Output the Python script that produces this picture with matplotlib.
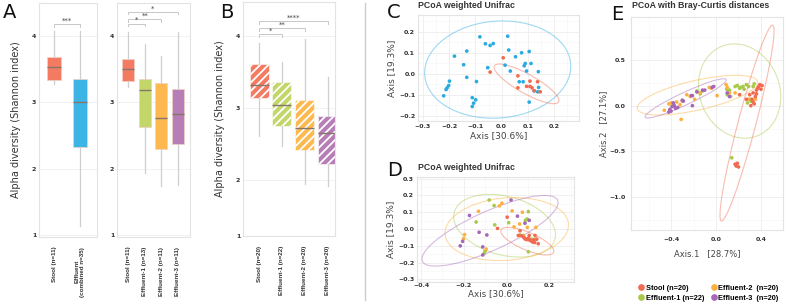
import numpy as np
import matplotlib.pyplot as plt
from matplotlib.patches import Ellipse
from matplotlib.lines import Line2D
from matplotlib.ticker import MultipleLocator

W, H = 789, 303

# colours
STOOL = '#F47A62'
EFF = '#3CB4E5'
EFF1 = '#C3D66A'
EFF2 = '#FDB94F'
EFF3 = '#B67DB6'
SC_STOOL = '#F26A4F'
SC_EFF = '#29ABE2'
SC_E1 = '#A8C94A'
SC_E2 = '#FDB03F'
SC_E3 = '#A567B8'

# ---- panel A (left): stool vs combined effluent
a1_labels = ['Stool (n=11)', 'Effluent\n(combined n=35)']
a1_whislo = [3.28, 1.13]
a1_q1 = [3.34, 2.33]
a1_med = [3.53, 3.00]
a1_q3 = [3.68, 3.36]
a1_whishi = [4.08, 4.08]
a1_sig = [(1, 2, 4.18, '***')]

# ---- panel A (right): stool vs each effluent
a2_labels = ['Stool (n=11)', 'Effluent-1 (n=13)', 'Effluent-2 (n=11)', 'Effluent-3 (n=11)']
a2_whislo = [3.24, 1.94, 1.74, 1.75]
a2_q1 = [3.32, 2.63, 2.30, 2.37]
a2_med = [3.51, 3.19, 2.76, 2.83]
a2_q3 = [3.65, 3.36, 3.29, 3.21]
a2_whishi = [4.07, 3.88, 3.70, 4.07]
a2_sig = [(1, 2, 4.19, '*'), (1, 3, 4.26, '**'), (1, 4, 4.37, '*')]

# ---- panel B
b_labels = ['Stool (n=20)', 'Effluent-1 (n=22)', 'Effluent-2 (n=20)', 'Effluent-3 (n=20)']
b_whislo = [2.61, 2.47, 1.95, 1.91]
b_q1 = [3.14, 2.75, 2.42, 2.22]
b_med = [3.33, 3.04, 2.72, 2.66]
b_q3 = [3.61, 3.36, 3.11, 2.89]
b_whishi = [3.91, 3.64, 3.96, 3.44]
b_sig = [(1, 2, 4.03, '*'), (1, 3, 4.12, '**'), (1, 4, 4.21, '****')]

# ---- panel C (weighted Unifrac, stool n=11 vs effluent)
c_eff_x = [-0.083, 0.023, -0.062, -0.044, -0.032, -0.180, -0.133, 0.027, 0.053, 0.076, 0.105,
           -0.145, -0.053, 0.013, 0.090, 0.086, 0.112, 0.033, 0.095, 0.140, -0.133, -0.096,
           -0.199, -0.202, -0.208, -0.212, -0.221, -0.112, -0.099, -0.107, -0.112, 0.067,
           0.082, 0.141, 0.137, 0.105, 0.124]
c_eff_y = [0.176, 0.179, 0.143, 0.135, 0.144, 0.084, 0.108, 0.113, 0.081, 0.100, 0.106,
           0.043, 0.029, 0.041, 0.049, 0.038, 0.049, 0.013, 0.013, 0.010, -0.017, -0.037,
           -0.035, -0.056, -0.067, -0.075, -0.105, -0.114, -0.124, -0.140, -0.156, -0.038,
           -0.038, -0.065, -0.086, -0.135, -0.081]
c_stool_x = [0.006, -0.044, 0.062, 0.062, 0.095, 0.108, 0.116, 0.108, 0.137, 0.147, 0.124]
c_stool_y = [0.076, 0.008, -0.010, -0.067, -0.060, -0.060, -0.067, -0.035, -0.038, -0.086, -0.081]
# ellipses: centre x, centre y, width, height, angle
c_ell_eff = (-0.015, 0.02, 0.56, 0.46, 10)
c_ell_stool = (0.095, -0.048, 0.30, 0.085, -36)

# ---- panel D (weighted Unifrac, stool + three effluents)
d_stool_x = [0.002, -0.043, 0.062, 0.054, 0.085, 0.093, 0.105, 0.105, 0.132, 0.121, 0.147,
             0.110, 0.098, 0.116, 0.125, 0.140, 0.080, 0.070, 0.130, 0.100]
d_stool_y = [0.071, 0.004, -0.010, -0.038, -0.058, -0.063, -0.063, -0.038, -0.038, -0.077, -0.087,
             -0.068, -0.060, -0.070, -0.065, -0.060, -0.050, -0.040, -0.080, -0.055]
d_e1_x = [-0.082, -0.059, -0.143, -0.056, 0.009, 0.087, 0.101, 0.062, 0.127, 0.101, -0.101,
          -0.105, 0.078, 0.095, 0.115]
d_e1_y = [0.173, 0.140, 0.042, 0.025, 0.038, 0.052, 0.104, -0.035, -0.062, -0.135, -0.131,
          -0.144, -0.038, 0.060, -0.060]
d_e2_x = [-0.132, -0.034, -0.023, 0.025, 0.073, 0.034, 0.096, 0.136, -0.197, -0.202, -0.096,
          0.135, 0.078, 0.060]
d_e2_y = [0.106, 0.138, 0.154, 0.108, 0.100, 0.013, 0.010, 0.010, -0.033, -0.058, -0.119,
          -0.062, -0.042, 0.030]
d_e3_x = [0.020, -0.174, 0.050, 0.085, 0.105, -0.129, -0.093, -0.206, -0.217, -0.112, -0.112]
d_e3_y = [0.173, 0.081, 0.077, 0.035, 0.052, -0.019, -0.035, -0.073, -0.100, -0.106, -0.154]
d_ell_stool = (0.096, -0.072, 0.28, 0.10, -30)
d_ell_e1 = (-0.01, 0.02, 0.50, 0.34, -25)
d_ell_e2 = (0.0, 0.0, 0.58, 0.37, 8)
d_ell_e3 = (-0.078, -0.01, 0.73, 0.22, 31)

# ---- panel E (Bray-Curtis)
e_stool_x = [0.33, 0.36, 0.38, 0.39, 0.41, 0.32, 0.33, 0.30, 0.35, 0.27, 0.21, 0.34, 0.37, 0.40,
             0.31, 0.17, 0.18, 0.20, 0.19, 0.36]
e_stool_y = [0.14, 0.17, 0.21, 0.23, 0.22, 0.07, 0.04, 0.12, 0.10, 0.07, 0.12, 0.02, 0.19, 0.18,
             0.00, -0.64, -0.66, -0.67, -0.63, 0.13]
e_e1_x = [-0.17, -0.14, -0.12, -0.39, 0.095, 0.12, 0.17, 0.19, 0.27, 0.29, 0.34, 0.30, 0.14, 0.10,
          0.22, 0.25, 0.31, 0.13, 0.24, 0.33, 0.28, 0.21]
e_e1_y = [0.16, 0.13, 0.16, 0.00, 0.18, 0.17, 0.21, 0.22, 0.23, 0.21, 0.24, 0.07, -0.57, 0.12,
          0.20, 0.18, 0.05, 0.10, 0.21, 0.21, 0.03, 0.19]
e_e2_x = [-0.46, -0.40, -0.35, -0.32, -0.31, -0.26, -0.23, -0.19, -0.14, -0.06, -0.04, 0.01, 0.09,
          0.12, 0.17, 0.29, 0.35, -0.42, -0.30, 0.10]
e_e2_y = [-0.05, 0.03, 0.04, 0.01, -0.15, 0.12, 0.10, 0.07, 0.14, 0.20, 0.19, 0.11, 0.23, 0.14,
          0.14, 0.07, 0.07, 0.02, 0.05, 0.20]
e_e3_x = [-0.42, -0.41, -0.39, -0.38, -0.36, -0.40, -0.37, -0.30, -0.29, -0.22, -0.21, -0.21, -0.17,
          -0.12, -0.10, -0.02, -0.035, 0.10, 0.12, -0.34]
e_e3_y = [-0.07, -0.04, -0.01, 0.03, -0.03, -0.06, 0.00, 0.06, 0.05, 0.11, 0.11, 0.00, 0.15, 0.17,
          0.17, 0.21, 0.20, 0.14, 0.10, -0.02]
e_ell_stool = (0.276, -0.19, 2.19, 0.16, 78)
e_ell_e1 = (0.21, 0.16, 0.72, 1.04, 10)
e_ell_e2 = (-0.165, 0.115, 1.11, 0.32, 16)
e_ell_e3 = (-0.27, 0.08, 0.83, 0.13, 30)

legend_labels = ['Stool (n=20)', 'Effluent-1 (n=22)', 'Effluent-2  (n=20)', 'Effluent-3  (n=20)']

plt.rcParams['font.family'] = 'DejaVu Sans'
plt.rcParams['hatch.linewidth'] = 1.3

fig = plt.figure(figsize=(W / 100, H / 100), dpi=100)
fig.patch.set_facecolor('white')


def ax_px(l, t, r, b):
    return fig.add_axes([l / W, 1 - b / H, (r - l) / W, (b - t) / H])


def frame(ax):
    for s in ax.spines.values():
        s.set_color('#e3e3e3')
        s.set_linewidth(0.8)
    ax.tick_params(length=0, labelsize=4.5, colors='#333333', pad=2)
    for t in ax.get_yticklabels():
        t.set_fontweight('bold')


def boxes(ax, labels, lo, q1, med, q3, hi, colors, width, hatch=None):
    stats = []
    for i in range(len(labels)):
        stats.append(dict(whislo=lo[i], q1=q1[i], med=med[i], q3=q3[i], whishi=hi[i], fliers=[]))
    pos = np.arange(1, len(labels) + 1)
    bp = ax.bxp(stats, positions=pos, widths=width, patch_artist=True, showcaps=False,
                showfliers=False,
                whiskerprops=dict(color='#cfcfcf', lw=0.9),
                medianprops=dict(color='#85766c', lw=1.0))
    for p, c in zip(bp['boxes'], colors):
        p.set_facecolor(c)
        if hatch:
            p.set_edgecolor('white')
            p.set_hatch(hatch)
            p.set_linewidth(0.4)
        else:
            p.set_edgecolor('#f4d0c4')
            p.set_linewidth(0.5)
    ax.set_xticks(pos)
    ax.set_xticklabels(labels, rotation=90, va='top', ha='center', fontsize=5.0,
                       family='Liberation Sans', fontweight='bold', color='#2a2a2a')
    ax.grid(axis='y', color='#efefef', lw=0.6)
    ax.set_axisbelow(True)


def brackets(ax, sig, drop=0.04):
    for x1, x2, y, s in sig:
        ax.plot([x1, x1, x2, x2], [y - drop, y, y, y - drop], color='#c8c8c8', lw=0.7)
        ax.text((x1 + x2) / 2, y + 0.005, s, ha='center', va='bottom', fontsize=5, color='#444444')


# ---------- A1
ax = ax_px(39, 3, 97, 237)
boxes(ax, a1_labels, a1_whislo, a1_q1, a1_med, a1_q3, a1_whishi, [STOOL, EFF], 0.54)
brackets(ax, a1_sig)
ax.set_xlim(0.42, 2.65)
ax.set_ylim(0.97, 4.5)
ax.set_yticks([1, 2, 3, 4])
ax.set_ylabel('Alpha diversity (Shannon index)', fontsize=7, color='#333333', labelpad=8)
frame(ax)
ax.tick_params(axis='x', pad=7)

# ---------- A2
ax = ax_px(117, 3, 190, 237)
boxes(ax, a2_labels, a2_whislo, a2_q1, a2_med, a2_q3, a2_whishi, [STOOL, EFF1, EFF2, EFF3], 0.73)
brackets(ax, a2_sig)
ax.set_xlim(0.31, 4.75)
ax.set_ylim(0.97, 4.5)
ax.set_yticks([1, 2, 3, 4])
frame(ax)
ax.tick_params(axis='x', pad=7)

# ---------- B
ax = ax_px(243, 2, 335, 236)
boxes(ax, b_labels, b_whislo, b_q1, b_med, b_q3, b_whishi, [STOOL, EFF1, EFF2, EFF3], 0.83,
      hatch='////')
brackets(ax, b_sig)
ax.set_xlim(0.30, 4.32)
ax.set_ylim(1.22, 4.48)
ax.set_yticks([1.22, 2, 3, 4])
ax.set_yticklabels(['1', '2', '3', '4'])
ax.set_ylabel('Alpha diversity (Shannon index)', fontsize=7, color='#333333', labelpad=8)
frame(ax)
ax.tick_params(axis='x', pad=7)

# separator
fig.add_artist(Line2D([365 / W, 365 / W], [0.01, 0.99], color='#cccccc', lw=1.0))


def pcoa(ax, groups, ells, xmaj, xmin, ymaj, ymin):
    for (xs, ys, c) in groups:
        ax.scatter(xs, ys, s=7, color=c, edgecolors='none', zorder=3)
    for (cx, cy, w, h, a), c in ells:
        ax.add_patch(Ellipse((cx, cy), w, h, angle=a, fill=False, edgecolor=c, lw=0.8, alpha=0.45,
                             zorder=2))
    ax.xaxis.set_major_locator(MultipleLocator(xmaj))
    ax.xaxis.set_minor_locator(MultipleLocator(xmin))
    ax.yaxis.set_major_locator(MultipleLocator(ymaj))
    ax.yaxis.set_minor_locator(MultipleLocator(ymin))
    ax.grid(which='major', color='#ececec', lw=0.6)
    ax.grid(which='minor', color='#f5f5f5', lw=0.4)
    ax.set_axisbelow(True)
    ax.tick_params(which='minor', length=0)


def bold_ticks(ax):
    for t in ax.get_xticklabels():
        t.set_fontweight('bold')


TITLE = dict(fontsize=6.3, fontweight='bold', color='#333333', va='center', ha='left',
             family='Liberation Sans')

# ---------- C
ax = ax_px(418, 15, 579, 121)
pcoa(ax, [(c_eff_x, c_eff_y, SC_EFF), (c_stool_x, c_stool_y, SC_STOOL)],
     [(c_ell_eff, SC_EFF), (c_ell_stool, SC_STOOL)], 0.1, 0.05, 0.1, 0.05)
ax.set_xlim(-0.319, 0.295)
ax.set_ylim(-0.225, 0.28)
ax.set_xticks([-0.3, -0.2, -0.1, 0.0, 0.1, 0.2])
ax.set_yticks([-0.2, -0.1, 0.0, 0.1, 0.2])
ax.xaxis.set_major_formatter('{x:.1f}')
ax.yaxis.set_major_formatter('{x:.1f}')
frame(ax)
bold_ticks(ax)
ax.set_xlabel('Axis [30.6%]', fontsize=6.5, color='#444444', labelpad=2)
ax.set_ylabel('Axis [19.3%]', fontsize=6.5, color='#444444', labelpad=2)
fig.text(418 / W, 1 - 6 / H, 'PCoA weighted Unifrac', **TITLE)

# ---------- D
ax = ax_px(417, 177, 574, 282)
pcoa(ax, [(d_e1_x, d_e1_y, SC_E1), (d_e2_x, d_e2_y, SC_E2), (d_e3_x, d_e3_y, SC_E3),
          (d_stool_x, d_stool_y, SC_STOOL)],
     [(d_ell_e1, SC_E1), (d_ell_e2, SC_E2), (d_ell_e3, SC_E3), (d_ell_stool, SC_STOOL)],
     0.2, 0.1, 0.1, 0.05)
ax.set_xlim(-0.419, 0.314)
ax.set_ylim(-0.315, 0.31)
ax.set_xticks([-0.4, -0.2, 0.0, 0.2])
ax.set_yticks([-0.3, -0.2, -0.1, 0.0, 0.1, 0.2, 0.3])
ax.xaxis.set_major_formatter('{x:.1f}')
ax.yaxis.set_major_formatter('{x:.1f}')
frame(ax)
bold_ticks(ax)
ax.tick_params(axis='x', pad=1)
ax.set_xlabel('Axis [30.6%]', fontsize=6.3, color='#444444', labelpad=0.5)
ax.set_ylabel('Axis [19.3%]', fontsize=6.5, color='#444444', labelpad=2)
fig.text(418 / W, 1 - 167 / H, 'PCoA weighted Unifrac', **TITLE)

# ---------- E
ax = ax_px(631, 17, 783, 230)
pcoa(ax, [(e_e1_x, e_e1_y, SC_E1), (e_e2_x, e_e2_y, SC_E2), (e_e3_x, e_e3_y, SC_E3),
          (e_stool_x, e_stool_y, SC_STOOL)],
     [(e_ell_e1, SC_E1), (e_ell_e2, SC_E2), (e_ell_e3, SC_E3), (e_ell_stool, SC_STOOL)],
     0.4, 0.2, 0.5, 0.25)
ax.set_xlim(-0.756, 0.596)
ax.set_ylim(-1.36, 0.97)
ax.set_xticks([-0.4, 0.0, 0.4])
ax.set_yticks([-1.0, -0.5, 0.0, 0.5])
ax.xaxis.set_major_formatter('{x:.1f}')
ax.yaxis.set_major_formatter('{x:.1f}')
frame(ax)
bold_ticks(ax)
ax.tick_params(axis='x', pad=5)
ax.tick_params(axis='y', pad=4)
ax.set_xlabel('Axis.1   [28.7%]', fontsize=6, color='#444444', labelpad=5)
ax.set_ylabel('Axis.2   [27.1%]', fontsize=6, color='#444444', labelpad=0.5)
fig.text(632 / W, 1 - 6 / H, 'PCoA with Bray-Curtis distances', **TITLE)

handles = [Line2D([], [], marker='o', ls='none', color=c, markersize=3.8)
           for c in [SC_STOOL, SC_E1, SC_E2, SC_E3]]
fig.legend(handles, legend_labels, loc='upper left', bbox_to_anchor=(634 / W, 1 - 281 / H),
           ncol=2, frameon=False, handletextpad=0.1, columnspacing=0.8,
           labelspacing=0.35, borderpad=0, handlelength=1.0,
           prop=dict(family='Liberation Sans', size=5.3, weight='bold'))

# panel letters
for lx, ly, s in [(3, 13, 'A'), (220, 13, 'B'), (387, 13, 'C'), (387, 170, 'D'), (611, 14, 'E')]:
    fig.text(lx / W, 1 - ly / H, s, fontsize=14, va='center', ha='left', color='#111111')

fig.savefig('out.png', dpi=100)
